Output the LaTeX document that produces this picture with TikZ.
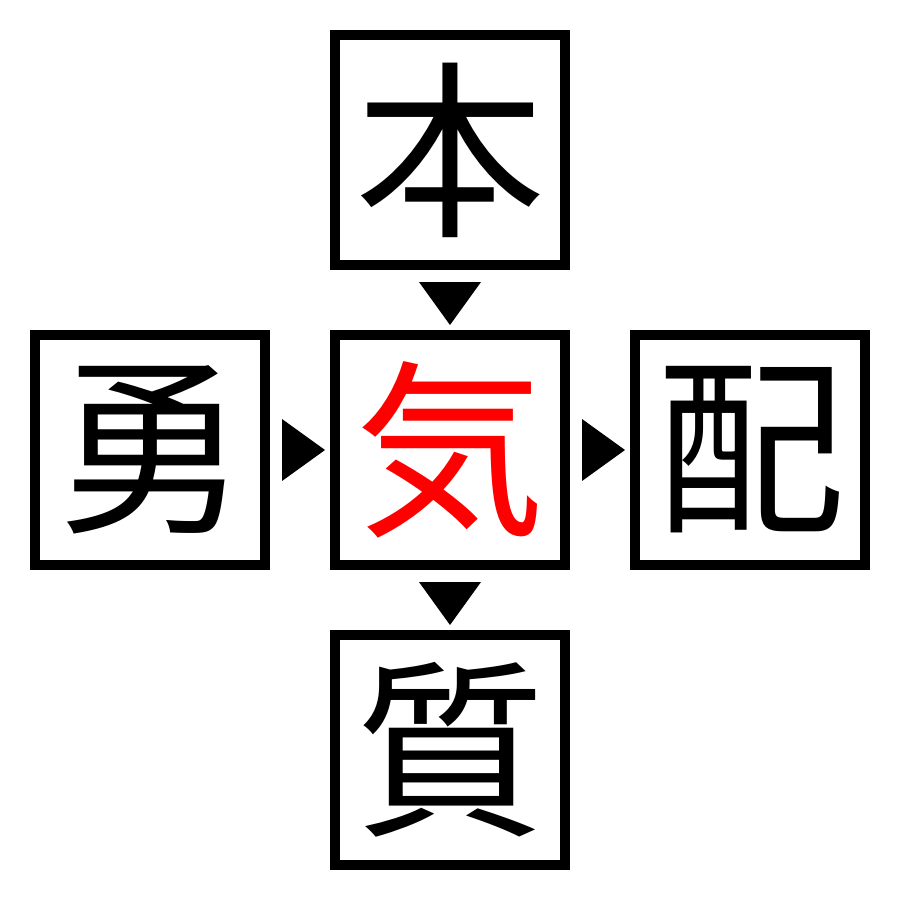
\documentclass[tikz,border=0pt]{standalone}
\usetikzlibrary{calc}
\usepackage{fontspec}
\newfontfamily\cjk{Noto Sans CJK JP}
\begin{document}
\begin{tikzpicture}[x=1pt,y=-1pt,
  kbox/.style={draw=black,line width=10pt,minimum size=230pt,inner sep=0pt,
    font=\cjk\fontsize{190pt}{190pt}\selectfont},
  tri/.style={fill=black}]
\useasboundingbox (0,0) rectangle (900,900);
\node[kbox] (top) at (450,150) {本};
\node[kbox,text=red] (mid) at (450,450) {気};
\node[kbox] (left) at (150,450) {勇};
\node[kbox] (right) at (750,450) {配};
\node[kbox] (bot) at (450,750) {質};
% arrow heads between boxes
\fill[tri] ($(top.south)+(-31,12)$) -- ($(top.south)+(31,12)$) -- ($(mid.north)+(0,-5)$) -- cycle;
\fill[tri] ($(mid.south)+(-31,12)$) -- ($(mid.south)+(31,12)$) -- ($(bot.north)+(0,-5)$) -- cycle;
\fill[tri] ($(left.east)+(12,-31)$) -- ($(left.east)+(12,31)$) -- ($(mid.west)+(-5,0)$) -- cycle;
\fill[tri] ($(mid.east)+(12,-31)$) -- ($(mid.east)+(12,31)$) -- ($(right.west)+(-5,0)$) -- cycle;
\end{tikzpicture}
\end{document}
